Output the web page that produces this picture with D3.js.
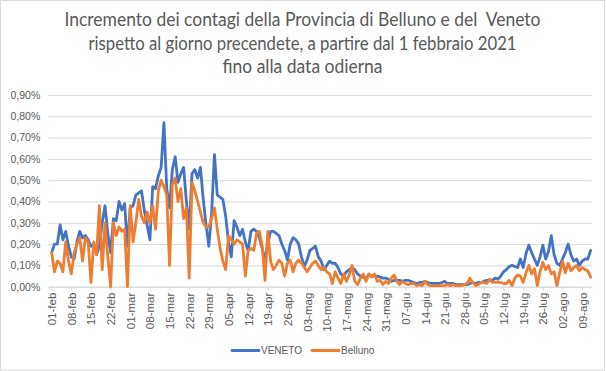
<!DOCTYPE html>
<html><head><meta charset="utf-8">
<script src="https://cdn.jsdelivr.net/npm/d3@7"></script>
<style>
html,body{margin:0;padding:0;background:#fff;}
svg{display:block;}
</style></head>
<body>
<svg id="chart" width="606" height="371"></svg>
<script>
const titleLines = [
  "Incremento dei contagi della Provincia di Belluno e del  Veneto",
  "rispetto al giorno precendete, a partire dal 1 febbraio 2021",
  "fino alla data odierna"
];
const startDate = "2021-02-01";
const seriesNames = ["VENETO", "Belluno"];
const seriesColors = ["#4472C4", "#ED7D31"];
// daily increase in %, from 01-feb
const veneto = [
  0.16,0.20,0.20,0.29,0.22,0.26,0.19,0.14,0.13,0.21,
  0.26,0.23,0.24,0.22,0.19,0.20,0.15,0.19,0.30,0.38,
  0.25,0.16,0.32,0.31,0.40,0.36,0.39,0.19,0.37,0.38,
  0.43,0.44,0.45,0.36,0.29,0.22,0.47,0.46,0.52,0.56,
  0.77,0.46,0.37,0.55,0.61,0.49,0.53,0.56,0.40,0.27,
  0.53,0.55,0.51,0.56,0.41,0.29,0.19,0.35,0.62,0.43,
  0.42,0.41,0.33,0.21,0.14,0.31,0.28,0.24,0.27,0.21,
  0.17,0.26,0.27,0.26,0.23,0.18,0.125,0.20,0.26,0.26,
  0.25,0.24,0.20,0.17,0.125,0.20,0.23,0.22,0.20,0.14,
  0.095,0.125,0.17,0.18,0.19,0.14,0.12,0.08,0.10,0.12,
  0.11,0.11,0.09,0.06,0.05,0.07,0.08,0.09,0.08,0.06,
  0.05,0.045,0.04,0.055,0.05,0.05,0.05,0.045,0.04,0.04,
  0.035,0.025,0.03,0.03,0.03,0.025,0.03,0.03,0.025,0.02,
  0.015,0.02,0.02,0.025,0.02,0.015,0.015,0.015,0.015,0.02,
  0.025,0.015,0.015,0.015,0.01,0.01,0.01,0.01,0.01,0.015,
  0.02,0.015,0.02,0.02,0.025,0.03,0.03,0.03,0.04,0.035,
  0.05,0.07,0.08,0.095,0.10,0.095,0.09,0.13,0.09,0.155,
  0.195,0.16,0.13,0.10,0.14,0.195,0.13,0.165,0.24,0.15,
  0.11,0.10,0.13,0.16,0.20,0.15,0.12,0.13,0.10,0.12,
  0.13,0.13,0.17
];
const belluno = [
  0.16,0.07,0.12,0.11,0.07,0.21,0.12,0.06,0.16,0.20,
  0.23,0.12,0.23,0.21,0.02,0.21,0.15,0.38,0.08,0.30,
  0.14,0.00,0.30,0.24,0.28,0.26,0.27,0.00,0.38,0.21,
  0.30,0.41,0.33,0.30,0.35,0.30,0.38,0.27,0.45,0.50,
  0.47,0.43,0.10,0.48,0.51,0.40,0.46,0.32,0.37,0.04,
  0.49,0.45,0.40,0.35,0.30,0.28,0.28,0.32,0.37,0.27,
  0.18,0.12,0.08,0.24,0.22,0.20,0.22,0.21,0.20,0.05,
  0.17,0.18,0.17,0.25,0.26,0.19,0.03,0.26,0.12,0.08,
  0.10,0.125,0.11,0.05,0.11,0.125,0.07,0.11,0.125,0.11,
  0.09,0.07,0.09,0.11,0.12,0.10,0.08,0.09,0.07,0.06,
  0.015,0.07,0.04,0.015,0.06,0.025,0.055,0.10,0.025,0.01,
  0.04,0.06,0.025,0.06,0.045,0.06,0.025,0.03,0.01,0.025,
  0.015,0.04,0.055,0.025,0.01,0.025,0.015,0.01,0.015,0.015,
  0.005,0.01,0.005,0.025,0.01,0.005,0.005,0.005,0.005,0.005,
  0.005,0.01,0.005,0.01,0.005,0.005,0.005,0.01,0.015,0.04,
  0.02,0.005,0.01,0.02,0.02,0.015,0.035,0.02,0.02,0.02,
  0.02,0.015,0.015,0.03,0.005,0.04,0.055,0.05,0.02,0.065,
  0.10,0.06,0.085,0.005,0.07,0.115,0.08,0.10,0.06,0.07,
  0.005,0.065,0.12,0.065,0.11,0.075,0.09,0.10,0.075,0.09,
  0.08,0.075,0.045
];
const yTicks = [0,0.1,0.2,0.3,0.4,0.5,0.6,0.7,0.8,0.9];
const xTickLabels = ["01-feb","08-feb","15-feb","22-feb","01-mar","08-mar","15-mar","22-mar","29-mar",
  "05-apr","12-apr","19-apr","26-apr","03-mag","10-mag","17-mag","24-mag","31-mag",
  "07-giu","14-giu","21-giu","28-giu","05-lug","12-lug","19-lug","26-lug","02-ago","09-ago"];

const svg = d3.select("#chart");
const W = 606, H = 371;
const plot = {left: 48.3, right: 591.7, top: 95, bottom: 286.7};
const textCol = "#595959", gridCol = "#D9D9D9";

// chart border
svg.append("rect").attr("x",0.5).attr("y",0.5).attr("width",604).attr("height",369.5)
  .attr("fill","#fff").attr("stroke","#D9D9D9").attr("stroke-width",1);

// title
const titleBase = [26, 50, 73];
const titleWidths = [476, 428, 160];
titleLines.forEach((t,i)=>{
  svg.append("text").attr("x",W/2 - 0.5).attr("y",titleBase[i])
    .attr("text-anchor","middle").attr("fill",textCol)
    .style("font-family","Lato, 'Open Sans', sans-serif").style("font-size","18.5px")
    .style("white-space","pre")
    .attr("textLength",titleWidths[i]).attr("lengthAdjust","spacingAndGlyphs")
    .text(t);
});

const parse = d3.timeParse("%Y-%m-%d");
const d0 = parse(startDate);
const dates = veneto.map((_,i)=>d3.timeDay.offset(d0,i));
const msDay = 864e5;
const x = d3.scaleTime()
  .domain([new Date(+d0 - 1.2*msDay), new Date(+d0 + 192.4*msDay)])
  .range([plot.left, plot.right]);
const y = d3.scaleLinear().domain([0,0.9]).range([plot.bottom, plot.top]);

// gridlines
const yAxis = d3.axisLeft(y).tickValues(yTicks)
  .tickFormat(d=>d.toFixed(2).replace(".",",")+"%")
  .tickSize(-(plot.right-plot.left)).tickPadding(8);
const gy = svg.append("g").attr("transform",`translate(${plot.left},0)`).call(yAxis);
gy.select(".domain").remove();
gy.selectAll(".tick line").attr("stroke",gridCol).attr("stroke-width",1);
gy.selectAll(".tick text").attr("fill",textCol)
  .style("font-family","'Liberation Sans', Arial, sans-serif").style("font-size","10.5px");

// x axis
const xTickDates = xTickLabels.map((_,i)=>d3.timeDay.offset(d0, i*7));
const xAxis = d3.axisBottom(x).tickValues(xTickDates)
  .tickFormat((d,i)=>xTickLabels[i]).tickSize(4).tickSizeOuter(0);
const gx = svg.append("g").attr("transform",`translate(0,${plot.bottom})`).call(xAxis);
gx.select(".domain").attr("stroke",gridCol).attr("stroke-width",1);
gx.selectAll(".tick line").attr("stroke",gridCol);
gx.selectAll(".tick text").attr("fill",textCol)
  .style("font-family","'Liberation Sans', Arial, sans-serif").style("font-size","11.5px")
  .attr("text-anchor","end").attr("dy","0.35em")
  .attr("transform","translate(0,6) rotate(-90)").attr("x",0).attr("y",0);

// lines
const line = d3.line().x((d,i)=>x(dates[i])).y(d=>y(d)).curve(d3.curveLinear);
[veneto, belluno].forEach((s,k)=>{
  svg.append("path").datum(s).attr("d",line).attr("fill","none")
    .attr("stroke",seriesColors[k]).attr("stroke-width",2.8)
    .attr("stroke-linejoin","round").attr("stroke-linecap","round");
});

// legend
const legX = [232, 312];
seriesNames.forEach((n,k)=>{
  const g = svg.append("g").attr("transform",`translate(${legX[k]},350.5)`);
  g.append("line").attr("x1",0).attr("x2",27).attr("y1",0).attr("y2",0)
    .attr("stroke",seriesColors[k]).attr("stroke-width",2.8).attr("stroke-linecap","round");
  g.append("text").attr("x",29).attr("y",0).attr("dy","0.35em").attr("fill",textCol)
    .style("font-family","'Liberation Sans', Arial, sans-serif").style("font-size","10px").text(n);
});
</script>
</body></html>
